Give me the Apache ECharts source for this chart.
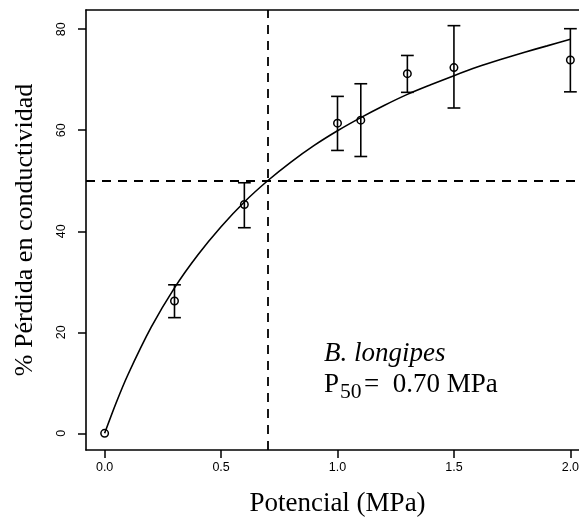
<!DOCTYPE html>
<html><head><meta charset="utf-8">
<script src="https://cdn.jsdelivr.net/npm/echarts@6/dist/echarts.min.js"></script>
<style>html,body{margin:0;padding:0;background:#fff;overflow:hidden}#c{width:620px;height:527px}</style>
</head><body><div id="c"></div>
<script>
// Observed means and error bars
const xPoints = [0, 0.3, 0.6, 1.0, 1.1, 1.3, 1.5, 2.0];
const yPoints = [0, 26.2, 45.3, 61.4, 62.0, 71.2, 72.4, 73.9];
const errLow  = [null, 22.9, 40.7, 56.0, 54.8, 67.5, 64.4, 67.6];
const errHigh = [null, 29.4, 49.6, 66.7, 69.2, 74.8, 80.7, 80.1];
// Fitted curve
const curveX = [0, 0.05, 0.1, 0.2, 0.3, 0.4, 0.5, 0.6, 0.7, 0.8, 0.9, 1.0, 1.1, 1.2, 1.3, 1.4, 1.5, 1.6, 1.7, 1.8, 1.9, 2.0];
const curveY = [0, 6.1, 11.6, 21.0, 28.8, 35.3, 40.9, 45.8, 50.0, 53.7, 57.0, 59.9, 62.5, 64.9, 67.1, 69.0, 70.8, 72.5, 74.0, 75.4, 76.7, 78.0];
// Reference lines
const p50Value = 0.70;
const halfLoss = 50;
// Ticks
const xTicks = [0, 0.5, 1.0, 1.5, 2.0];
const yTicks = [0, 20, 40, 60, 80];
const xTitle = 'Potencial (MPa)';
const yTitle = '% Pérdida en conductividad';
const speciesName = 'B. longipes';

const SERIF = "'Liberation Serif','Times New Roman',serif";
const SANS = "'Liberation Sans',Arial,sans-serif";

const chart = echarts.init(document.getElementById('c'), null, {renderer: 'canvas'});

const curveData = curveX.map((x, i) => [x, curveY[i]]);
const pointData = xPoints.map((x, i) => [x, yPoints[i]]);
const errData = [];
xPoints.forEach((x, i) => { if (errLow[i] != null) errData.push([x, errLow[i], errHigh[i]]); });

const boxLine = {show: true, onZero: false, lineStyle: {color: '#000', width: 1.6}};

const option = {
  animation: false,
  backgroundColor: '#fff',
  grid: {left: 86, top: 10, width: 503, height: 440, show: false, containLabel: false, outerBoundsMode: 'none'},
  xAxis: [{
    type: 'value', min: -0.08, max: 2.08, position: 'bottom',
    name: xTitle, nameLocation: 'middle', nameGap: 40,
    nameTextStyle: {fontFamily: SERIF, fontSize: 27, color: '#000'},
    axisLine: boxLine,
    splitLine: {show: false},
    axisTick: {show: true, length: 8, lineStyle: {color: '#000', width: 1.5}, customValues: xTicks},
    axisLabel: {show: true, customValues: xTicks, margin: 11, fontFamily: SANS, fontSize: 12.5, color: '#000',
      formatter: v => Number(v).toFixed(1)}
  }, {
    type: 'value', min: -0.08, max: 2.08, position: 'top',
    axisLine: boxLine, axisTick: {show: false}, axisLabel: {show: false}, splitLine: {show: false}
  }],
  yAxis: {
    type: 'value', min: -3.3, max: 83.8,
    name: yTitle, nameLocation: 'middle', nameGap: 48, nameRotate: 90,
    nameTextStyle: {fontFamily: SERIF, fontSize: 26, color: '#000'},
    axisLine: boxLine,
    splitLine: {show: false},
    axisTick: {show: true, length: 8, lineStyle: {color: '#000', width: 1.5}, customValues: yTicks},
    axisLabel: {show: true, customValues: yTicks, rotate: 90, margin: 18, fontFamily: SANS, fontSize: 12.5, color: '#000',
      formatter: v => String(Math.round(v))}
  },
  series: [
    {
      type: 'line', data: curveData, smooth: 0.3, showSymbol: false, symbol: 'none',
      lineStyle: {color: '#000', width: 1.6}, z: 3,
      markLine: {
        silent: true, symbol: ['none', 'none'], label: {show: false},
        lineStyle: {color: '#000', width: 1.8, type: [9, 7]},
        data: [{yAxis: halfLoss}, {xAxis: p50Value}]
      }
    },
    {
      type: 'custom', data: errData, z: 4,
      renderItem: function (params, api) {
        const x = api.value(0);
        const lo = api.coord([x, api.value(1)]);
        const hi = api.coord([x, api.value(2)]);
        const w = 6.4;
        const st = {stroke: '#000', lineWidth: 1.6};
        return {type: 'group', children: [
          {type: 'line', shape: {x1: lo[0], y1: lo[1], x2: hi[0], y2: hi[1]}, style: st},
          {type: 'line', shape: {x1: lo[0] - w, y1: lo[1], x2: lo[0] + w, y2: lo[1]}, style: st},
          {type: 'line', shape: {x1: hi[0] - w, y1: hi[1], x2: hi[0] + w, y2: hi[1]}, style: st}
        ]};
      }
    },
    {
      type: 'scatter', data: pointData, symbol: 'circle', symbolSize: 7.5, z: 5,
      itemStyle: {color: 'rgba(255,255,255,0)', borderColor: '#000', borderWidth: 1.5, opacity: 1}
    }
  ]
};
chart.setOption(option);

// Annotation placed in data coordinates
const anchor = chart.convertToPixel({xAxisIndex: 0, yAxisIndex: 0}, [0.942, 15.7]);
const anchor2 = chart.convertToPixel({xAxisIndex: 0, yAxisIndex: 0}, [0.942, 9.5]);
chart.setOption({
  graphic: [
    {type: 'text', x: anchor[0], y: anchor[1], style: {text: speciesName, font: 'italic 27px ' + SERIF, fill: '#000', textAlign: 'left', textVerticalAlign: 'middle'}},
    {type: 'text', x: anchor2[0], y: anchor2[1], style: {text: 'P', font: '27px ' + SERIF, fill: '#000', textAlign: 'left', textVerticalAlign: 'middle'}},
    {type: 'text', x: anchor2[0] + 16, y: anchor2[1] + 7, style: {text: '50', font: '21.6px ' + SERIF, fill: '#000', textAlign: 'left', textVerticalAlign: 'middle'}},
    {type: 'text', x: anchor2[0] + 40, y: anchor2[1], style: {text: '=  0.70 MPa', font: '27px ' + SERIF, fill: '#000', textAlign: 'left', textVerticalAlign: 'middle'}}
  ]
});
</script>
</body></html>
